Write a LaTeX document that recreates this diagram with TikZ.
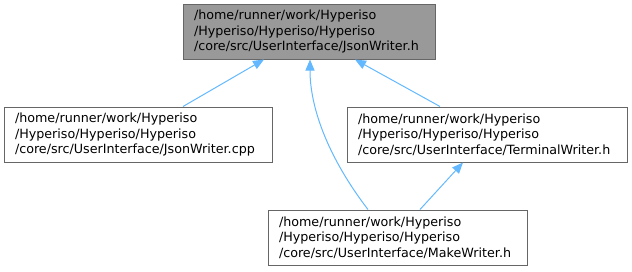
\documentclass[tikz,border=0pt]{standalone}
\usepackage{fontspec}
\setmainfont{DejaVu Sans}
\usetikzlibrary{arrows.meta}
\definecolor{edgeblue}{HTML}{63B8FF}
\definecolor{rootfill}{HTML}{999999}
\definecolor{nodedraw}{HTML}{666666}
\begin{document}
\begin{tikzpicture}[x=1pt,y=-1pt,
  filebox/.style={draw=nodedraw, line width=1pt, fill=white, inner xsep=11pt, inner ysep=0pt,
    align=left, font=\fontsize{12.7}{15.5}\selectfont, minimum height=55pt, anchor=center},
  rootbox/.style={filebox, fill=rootfill},
  edge/.style={draw=edgeblue, line width=1pt, {Triangle[length=11pt,width=9pt]}-}]
\useasboundingbox (0,0) rectangle (632,271);
\node[rootbox, text width=230pt] (jh) at (309,31.5)
  {/home/runner/work/Hyperiso\\/Hyperiso/Hyperiso/Hyperiso\\/core/src/UserInterface/JsonWriter.h};
\node[filebox, text width=246pt] (cpp) at (138,134.5)
  {/home/runner/work/Hyperiso\\/Hyperiso/Hyperiso/Hyperiso\\/core/src/UserInterface/JsonWriter.cpp};
\node[filebox, text width=258pt] (tw) at (487,134.5)
  {/home/runner/work/Hyperiso\\/Hyperiso/Hyperiso/Hyperiso\\/core/src/UserInterface/TerminalWriter.h};
\node[filebox, text width=237pt] (mw) at (397.5,237.5)
  {/home/runner/work/Hyperiso\\/Hyperiso/Hyperiso/Hyperiso\\/core/src/UserInterface/MakeWriter.h};
\draw[edge] ([xshift=-45pt]jh.south) -- ([xshift=45pt]cpp.north);
\draw[edge] ([xshift=46pt]jh.south) -- ([xshift=-47pt]tw.north);
\draw[edge] ([xshift=-24pt]tw.south) -- ([xshift=22.5pt]mw.north);
\draw[edge] ([xshift=1pt]jh.south) .. controls (310,110) and (330,160) .. ([xshift=-29.5pt]mw.north);
\end{tikzpicture}
\end{document}
